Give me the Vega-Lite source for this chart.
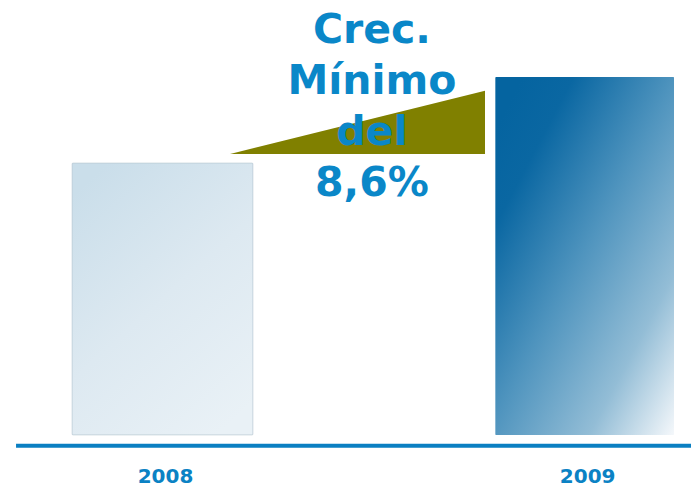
{
  "$schema": "https://vega.github.io/schema/vega-lite/v6.json",
  "width": 691,
  "height": 487,
  "autosize": {"type": "none"},
  "padding": 0,
  "background": "white",
  "config": {"view": {"stroke": null}},
  "datasets": {
    "bars": [
      {"year": 2008, "value": 100},
      {"year": 2009, "value": 131.6}
    ],
    "wedge": [
      {"t": 2008.16, "top": 103.3, "base": 103.3},
      {"t": 2008.764, "top": 126.5, "base": 103.3}
    ],
    "note": [
      {"t": 2008.496, "v": 144.1, "label": ["Crec.", "Mínimo", "del", "8,6%"]}
    ]
  },
  "layer": [
    {
      "data": {"name": "bars"},
      "transform": [{"filter": "datum.year == 2008"}],
      "mark": {
        "type": "bar",
        "width": 181,
        "cornerRadius": 1,
        "stroke": "#b9c9d3",
        "strokeWidth": 1,
        "strokeOpacity": 0.5,
        "color": {
          "gradient": "linear",
          "x1": 0.2, "y1": 0, "x2": 0.8, "y2": 1,
          "stops": [
            {"offset": 0, "color": "#cadeea"},
            {"offset": 0.5, "color": "#dde9f1"},
            {"offset": 1, "color": "#e9f1f6"}
          ]
        }
      },
      "encoding": {
        "x": {"field": "year", "type": "quantitative", "scale": {"domain": [2007.615, 2009.252], "nice": false, "zero": false, "padding": 0}, "axis": null},
        "y": {"field": "value", "type": "quantitative", "scale": {"domain": [-19.1, 159.9], "nice": false, "zero": false, "padding": 0}, "axis": null}
      }
    },
    {
      "data": {"name": "bars"},
      "transform": [{"filter": "datum.year == 2009"}],
      "mark": {
        "type": "bar",
        "width": 179,
        "cornerRadius": 1,
        "color": {
          "gradient": "linear",
          "x1": 0.1, "y1": 0.05, "x2": 1, "y2": 1,
          "stops": [
            {"offset": 0, "color": "#0564a0"},
            {"offset": 0.15, "color": "#0a67a2"},
            {"offset": 0.45, "color": "#4f94be"},
            {"offset": 0.75, "color": "#93bdd6"},
            {"offset": 1, "color": "#f5f8fb"}
          ]
        }
      },
      "encoding": {
        "x": {"field": "year", "type": "quantitative"},
        "y": {"field": "value", "type": "quantitative"}
      }
    },
    {
      "data": {"name": "wedge"},
      "mark": {"type": "area", "color": "#808000", "interpolate": "linear"},
      "encoding": {
        "x": {"field": "t", "type": "quantitative"},
        "y": {"field": "top", "type": "quantitative"},
        "y2": {"field": "base"}
      }
    },
    {
      "data": {"name": "note"},
      "mark": {
        "type": "text",
        "font": "DejaVu Sans",
        "fontWeight": "bold",
        "fontSize": 41,
        "color": "#0a87c8",
        "align": "center",
        "baseline": "alphabetic",
        "lineHeight": 51
      },
      "encoding": {
        "x": {"field": "t", "type": "quantitative"},
        "y": {"field": "v", "type": "quantitative"},
        "text": {"field": "label"}
      }
    },
    {
      "data": {"values": [{}]},
      "mark": {"type": "rule", "color": "#0a7fc2", "strokeWidth": 4},
      "encoding": {
        "x": {"datum": 2007.653},
        "x2": {"datum": 2009.252},
        "y": {"datum": -3.9}
      }
    },
    {
      "data": {"name": "bars"},
      "mark": {
        "type": "text",
        "font": "DejaVu Sans",
        "fontWeight": "bold",
        "fontSize": 20,
        "color": "#0b82c4",
        "align": "center",
        "baseline": "alphabetic",
        "dx": 3
      },
      "encoding": {
        "x": {"field": "year", "type": "quantitative"},
        "y": {"datum": -17.6},
        "text": {"field": "year", "type": "nominal"}
      }
    }
  ]
}
